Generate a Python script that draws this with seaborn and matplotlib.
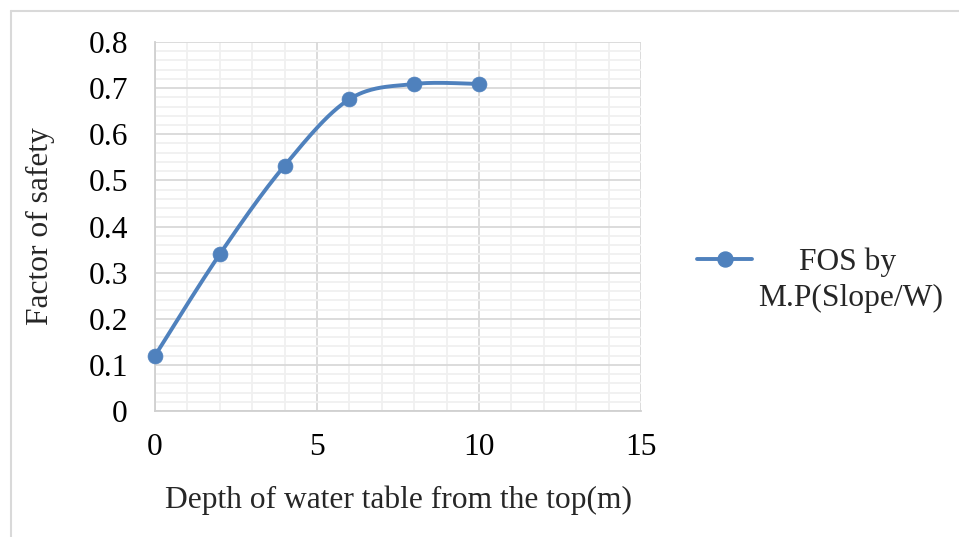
import numpy as np
import pandas as pd
import seaborn as sns
import matplotlib
matplotlib.use("Agg")
import matplotlib.pyplot as plt
from matplotlib.ticker import MultipleLocator, FuncFormatter
from matplotlib.lines import Line2D

# ---- data ----
depth = [0, 2, 4, 6, 8, 10]
fos = [0.12, 0.34, 0.532, 0.676, 0.709, 0.709]
series_name = "FOS by\nM.P(Slope/W)"
x_label = "Depth of water table from the top(m)"
y_label = "Factor of safety"
x_ticks = [0, 5, 10, 15]
y_ticks = [0, 0.1, 0.2, 0.3, 0.4, 0.5, 0.6, 0.7, 0.8]

sns.set_theme(style="white")
plt.rcParams['font.family'] = ['Liberation Serif', 'DejaVu Serif']
FS = 22.7
BLUE = "#4f81bd"

fig = plt.figure(figsize=(9.59, 5.37), dpi=100)
ax = fig.add_axes([155/959, 1-411/537, (641-155)/959, (411-42)/537])

df = pd.DataFrame({"x": depth, "y": fos})

# smooth curve (Excel-style Catmull-Rom Bezier) through the data points
def smooth(xs, ys, n=40):
    P = np.column_stack([xs, ys]).astype(float)
    pts = []
    for i in range(len(P) - 1):
        p0 = P[i-1] if i > 0 else P[i]
        p1 = P[i]
        p2 = P[i+1]
        p3 = P[i+2] if i + 2 < len(P) else P[i+1]
        c1 = p1 + (p2 - p0) / 6
        c2 = p2 - (p3 - p1) / 6
        t = np.linspace(0, 1, n)[:, None]
        seg = (1-t)**3*p1 + 3*(1-t)**2*t*c1 + 3*(1-t)*t**2*c2 + t**3*p2
        pts.append(seg if i == 0 else seg[1:])
    pts = np.vstack(pts)
    return pts[:, 0], pts[:, 1]

sx, sy = smooth(df["x"].values, df["y"].values)
sns.lineplot(x=sx, y=sy, ax=ax, color=BLUE, lw=2.8, sort=False, estimator=None, zorder=3)
sc = sns.scatterplot(data=df, x="x", y="y", ax=ax, color=BLUE, s=115, edgecolor=BLUE,
                     linewidth=0.5, zorder=4, legend=False, clip_on=False)

ax.set_xlim(0, 15)
ax.set_ylim(0, 0.8)
ax.set_xticks(x_ticks)
ax.set_yticks(y_ticks)
ax.xaxis.set_minor_locator(MultipleLocator(1))
ax.yaxis.set_minor_locator(MultipleLocator(0.02))
ax.yaxis.set_major_formatter(FuncFormatter(lambda v, p: "0" if v == 0 else f"{v:g}"))
ax.grid(which="major", color="#d9d9d9", lw=1.3)
ax.grid(which="minor", color="#f0f0f0", lw=1.3)
ax.set_axisbelow(True)
for s in ["top", "right"]:
    ax.spines[s].set_visible(False)
for s in ["left", "bottom"]:
    ax.spines[s].set_color("#d0d0d0")
    ax.spines[s].set_linewidth(1.3)
ax.tick_params(which="major", direction="out", length=6.5, width=1.3, color="#d0d0d0",
               labelsize=FS, labelcolor="black")
ax.tick_params(axis="y", pad=13)
ax.tick_params(axis="x", pad=9)
ax.tick_params(which="minor", length=0)
ax.set_xlabel(x_label, fontsize=FS, labelpad=17)
ax.set_ylabel(y_label, fontsize=FS, labelpad=24)

# legend
h = Line2D([], [], color=BLUE, lw=2.8, marker="o", markersize=10.8)
leg = fig.legend(handles=[h], labels=["FOS by"], loc="center left",
                 bbox_to_anchor=(697/959, 1-262/537), frameon=False, fontsize=FS,
                 handlelength=1.75, handletextpad=1.5, borderaxespad=0, borderpad=0)
fig.text(851/959, 1-298/537, "M.P(Slope/W)", fontsize=FS, ha="center", va="center")

# chart-area border (left & top visible)
fig.add_artist(Line2D([10.5/959, 10.5/959], [0, 1-11/537], color="#d9d9d9", lw=1.5,
                      transform=fig.transFigure))
fig.add_artist(Line2D([10.5/959, 1], [1-11/537, 1-11/537], color="#d9d9d9", lw=1.5,
                      transform=fig.transFigure))

fig.savefig("out.png", dpi=100)
